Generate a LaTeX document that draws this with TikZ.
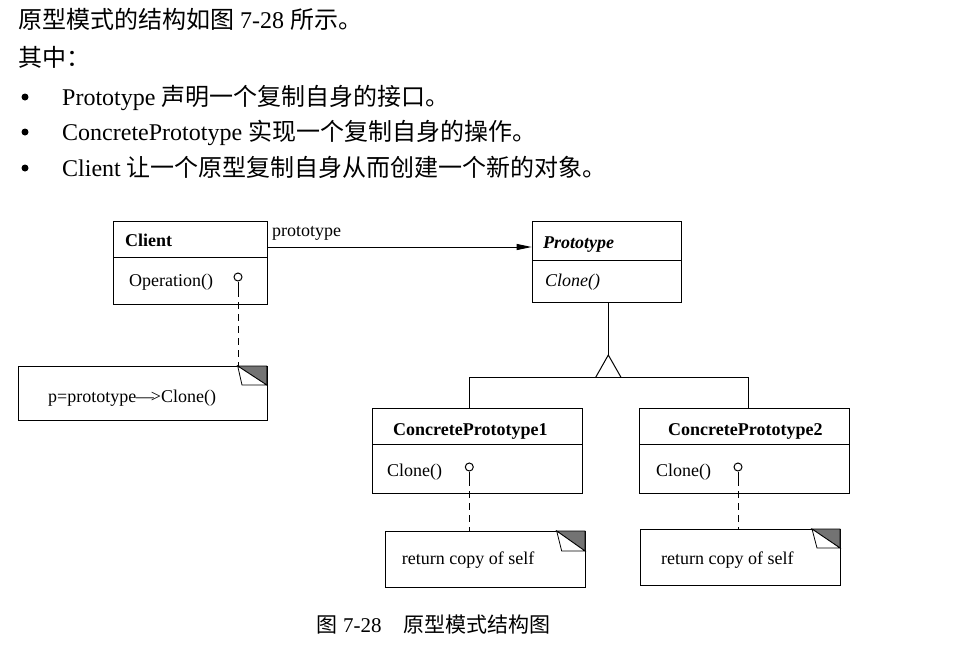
\documentclass[tikz,border=0pt]{standalone}
\usepackage{fontspec}
\setmainfont{Liberation Serif}
\newfontfamily\cjk{Noto Sans CJK SC}
\usetikzlibrary{arrows.meta}
\newcommand{\C}[1]{{\cjk #1}}
\tikzset{
  hdr/.style={anchor=base west, inner sep=0, font=\fontsize{24}{26}\selectfont},
  dtxt/.style={anchor=base west, inner sep=0, font=\fontsize{18}{20}\selectfont},
  bul/.style={circle, fill=black, inner sep=0, minimum size=7},
  umlbox/.style={draw, line width=1pt, inner sep=0, anchor=north west},
  conn/.style={line width=1pt},
  dashconn/.style={line width=1pt, dash pattern=on 7pt off 5pt},
  lolli/.style={circle, draw, line width=1pt, inner sep=0, minimum size=8},
  fold/.style={fill=black!55, draw=black, line width=0.8pt},
  foldw/.style={fill=white, draw=black, line width=0.8pt},
}
\begin{document}
\begin{tikzpicture}[x=1pt, y=-1pt]
\useasboundingbox[fill=white] (0,0) rectangle (969,649);

% header text
\node[hdr] (l1) at (18,28) {\C{原型模式的结构如图} 7-28 \C{所示。}};
\node[hdr] (l2) at (18,66) {\C{其中：}};
\node[bul] (b1) at (25,97) {};
\node[bul] (b2) at (25,132) {};
\node[bul] (b3) at (25,168) {};
\node[hdr] (t1) at (62,105) {Prototype \C{声明一个复制自身的接口。}};
\node[hdr] (t2) at (62,140) {ConcretePrototype \C{实现一个复制自身的操作。}};
\node[hdr] (t3) at (62,176) {Client \C{让一个原型复制自身从而创建一个新的对象。}};

% Client class
\node[umlbox, minimum width=153.5, minimum height=36] (clienthead) at (113.3,221) {};
\node[umlbox, minimum width=153.5, minimum height=47] (clientbody) at (113.3,257) {};
\node[dtxt, font=\fontsize{18}{20}\bfseries] (clientname) at (125,246) {Client};
\node[dtxt] (clientop) at (129,286) {Operation()};
\node[lolli] (clientlol) at (238,277) {};

% Prototype class
\node[umlbox, minimum width=149.3, minimum height=39] (protohead) at (531.7,221) {};
\node[umlbox, minimum width=149.3, minimum height=41.7] (protobody) at (531.7,260) {};
\node[dtxt, font=\fontsize{18}{20}\bfseries\itshape] (protoname) at (543,248) {Prototype};
\node[dtxt, font=\fontsize{18}{20}\itshape] (protoop) at (545,286) {Clone()};

% association
\coordinate (assocA) at (clienthead.east |- 0,247);
\coordinate (assocB) at (protohead.west |- 0,247);
\draw[conn, -{Triangle[length=15pt,width=6pt]}] (assocA) -- (assocB);
\node[dtxt] (assoclabel) at (272,236) {prototype};

% ConcretePrototype1
\node[umlbox, minimum width=210.6, minimum height=36.6] (cp1head) at (371.7,407.7) {};
\node[umlbox, minimum width=210.6, minimum height=49] (cp1body) at (371.7,444.3) {};
\node[dtxt, font=\fontsize{18}{20}\bfseries] (cp1name) at (393,435) {ConcretePrototype1};
\node[dtxt] (cp1op) at (387,476) {Clone()};
\node[lolli] (cp1lol) at (469.3,467) {};

% ConcretePrototype2
\node[umlbox, minimum width=210.3, minimum height=36.6] (cp2head) at (639,407.7) {};
\node[umlbox, minimum width=210.3, minimum height=49] (cp2body) at (639,444.3) {};
\node[dtxt, font=\fontsize{18}{20}\bfseries] (cp2name) at (668,435) {ConcretePrototype2};
\node[dtxt] (cp2op) at (656,476) {Clone()};
\node[lolli] (cp2lol) at (738,467) {};

% generalization
\coordinate (apex) at (608.3,355);
\coordinate (triL) at (595.7,377.3);
\coordinate (triR) at (621,377.3);
\coordinate (barL) at (469,377.3);
\coordinate (barR) at (748.7,377.3);
\draw[conn] (protobody.south -| apex) -- (apex);
\draw[conn, line join=miter] (triL) -- (apex) -- (triR);
\draw[conn] (cp1head.north -| barL) -- (barL) -- (barR) -- (cp2head.north -| barR);

% notes
\node[umlbox, minimum width=248.4, minimum height=54] (note1) at (18.3,366) {};
\node[dtxt] (note1t) at (48,402.5) {p=prototype\kern-0.5pt\textemdash\kern-3pt>Clone()};
\filldraw[fold] (237.7,366) -- (266.7,366) -- (266.7,385) -- cycle;
\filldraw[foldw] (237.7,366) -- (242,385) -- (266.7,385) -- cycle;

\node[umlbox, minimum width=200, minimum height=56] (note2) at (385,531) {};
\node[dtxt] (note2t) at (401.7,564) {return copy of self};
\filldraw[fold] (556.7,531) -- (585,531) -- (585,551) -- cycle;
\filldraw[foldw] (556.7,531) -- (561.7,551) -- (585,551) -- cycle;

\node[umlbox, minimum width=200, minimum height=56] (note3) at (640,529) {};
\node[dtxt] (note3t) at (661,564) {return copy of self};
\filldraw[fold] (812,529) -- (840,529) -- (840,548) -- cycle;
\filldraw[foldw] (812,529) -- (817,548) -- (840,548) -- cycle;

% lollipop links
\coordinate (s1) at (238,290);
\coordinate (s2) at (469.3,479);
\coordinate (s3) at (738,479);
\draw[conn] (clientlol.south) -- (s1);
\draw[dashconn] (s1) -- (note1.north -| s1);
\draw[conn] (cp1lol.south) -- (s2);
\draw[dashconn] (s2) -- (note2.north -| s2);
\draw[conn] (cp2lol.south) -- (s3);
\draw[dashconn] (s3) -- (note3.north -| s3);

% caption
\node[hdr, font=\fontsize{21}{23}\selectfont] (cap1) at (316.7,632) {\C{图} 7-28};
\node[hdr, font=\fontsize{21}{23}\selectfont] (cap2) at (403,632) {\C{原型模式结构图}};
\end{tikzpicture}
\end{document}
